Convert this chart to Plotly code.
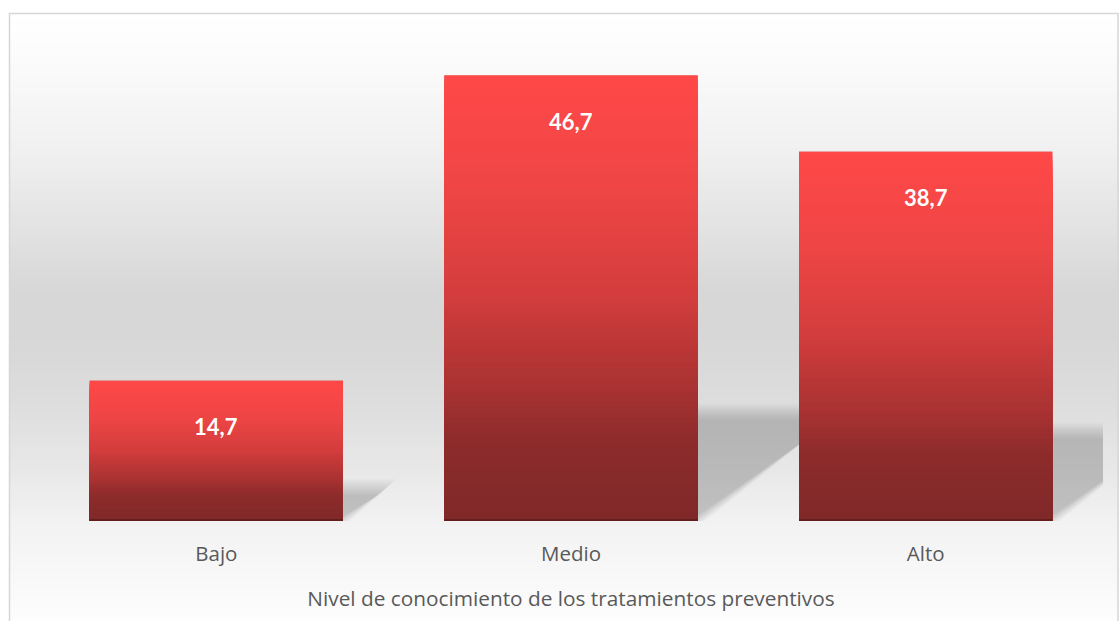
import numpy as np
import plotly.graph_objects as go

# Data
categories = ["Bajo", "Medio", "Alto"]
values = [14.7, 46.7, 38.7]
labels = ["14,7", "46,7", "38,7"]
axis_title = "Nivel de conocimiento de los tratamientos preventivos"

W, H = 1119, 621
M_L, M_R, M_T, M_B = 39, 16, 44, 100
Y_MAX = 50
BARGAP = 0.286
HALF = (1 - BARGAP) / 2

plot_w = W - M_L - M_R
plot_h = H - M_T - M_B
px_per_x = plot_w / len(categories)
px_per_y = plot_h / Y_MAX


def lerp_color(stops, t):
    ts = [s[0] for s in stops]
    for i in range(len(stops) - 1):
        if ts[i] <= t <= ts[i + 1]:
            f = (t - ts[i]) / (ts[i + 1] - ts[i])
            c0, c1 = stops[i][1], stops[i + 1][1]
            c = [round(c0[k] + (c1[k] - c0[k]) * f) for k in range(3)]
            return "rgb(%d,%d,%d)" % tuple(c)
    c = stops[-1][1]
    return "rgb(%d,%d,%d)" % tuple(c)


# bar fill: bright red at the top, dark red at the base (t measured from top)
bar_stops = [
    (0.00, (255, 72, 72)),
    (0.26, (238, 69, 69)),
    (0.49, (212, 61, 61)),
    (0.64, (182, 53, 53)),
    (0.71, (168, 50, 50)),
    (0.82, (142, 43, 43)),
    (1.00, (128, 41, 41)),
]

# chart background: white at the top, grey in the middle, light at the bottom (pixel rows)
bg_stops = [
    (13, (255, 255, 255)),
    (60, (251, 251, 251)),
    (150, (240, 240, 240)),
    (230, (226, 226, 226)),
    (290, (215, 215, 215)),
    (335, (215, 215, 215)),
    (400, (221, 221, 221)),
    (470, (232, 232, 232)),
    (520, (242, 242, 242)),
    (565, (247, 247, 247)),
    (621, (253, 253, 253)),
]


def px_to_paper_x(px):
    return (px - M_L) / plot_w


def px_to_paper_y(py):
    return (H - M_B - py) / plot_h


shapes = []

# background gradient inside the chart frame
FRAME_L, FRAME_T, FRAME_R = 9.5, 13.5, 1118.0
rows = np.arange(FRAME_T, H + 2, 3.0)
for r in rows:
    shapes.append(dict(
        type="rect", xref="paper", yref="paper", layer="below",
        x0=px_to_paper_x(FRAME_L), x1=px_to_paper_x(FRAME_R + 2),
        y0=px_to_paper_y(r + 3.5), y1=px_to_paper_y(r),
        fillcolor=lerp_color(bg_stops, r), line=dict(width=0),
    ))

# frame of the chart area
shapes.append(dict(
    type="rect", xref="paper", yref="paper", layer="below",
    x0=px_to_paper_x(FRAME_L), x1=px_to_paper_x(FRAME_R),
    y0=px_to_paper_y(H + 10), y1=px_to_paper_y(FRAME_T),
    fillcolor="rgba(0,0,0,0)", line=dict(color="#D6D6D6", width=1.5),
))

# soft perspective shadows cast to the right of each bar
SH_RATIO = 0.245      # shadow height relative to the bar height
SH_SLOPE = 1.33       # horizontal run of the shadow per pixel of rise
N_LAYERS = 12
BLUR = 8.0
for i, v in enumerate(values):
    x1 = i + HALF
    x0 = i - HALF
    hs_px = SH_RATIO * v * px_per_y
    dx_px = SH_SLOPE * hs_px
    for d in np.linspace(-BLUR, BLUR, N_LAYERS):
        top = (hs_px + d) / px_per_y
        xa = x1 + d / px_per_x
        xb = x1 + (dx_px + d) / px_per_x
        xc = x0 + (dx_px + d) / px_per_x
        path = "M %f,0 L %f,0 L %f,%f L %f,%f Z" % (x0, xa, xb, top, xc, top)
        shapes.append(dict(
            type="path", xref="x", yref="y", layer="below", path=path,
            fillcolor="rgba(0,0,0,0.017)", line=dict(width=0),
        ))

# vertical gradient over each bar
N_BANDS = 90
for i, v in enumerate(values):
    for k in range(N_BANDS):
        t = k / (N_BANDS - 1)
        level = v * (1 - k / N_BANDS)
        shapes.append(dict(
            type="rect", xref="x", yref="y", layer="above",
            x0=i - HALF, x1=i + HALF, y0=0, y1=level,
            fillcolor=lerp_color(bar_stops, t), line=dict(width=0),
        ))
    # darker rim along the base of the bar
    shapes.append(dict(
        type="rect", xref="x", yref="y", layer="above",
        x0=i - HALF, x1=i + HALF, y0=0, y1=2 / px_per_y,
        fillcolor="rgb(100,30,30)", line=dict(width=0),
    ))

fig = go.Figure()
fig.add_trace(go.Bar(
    x=categories, y=values,
    marker=dict(color="rgb(200,58,58)", line=dict(width=0)),
    hovertemplate="%{x}: %{y}<extra></extra>",
))

annotations = []
for cat, v, lab in zip(categories, values, labels):
    annotations.append(dict(
        x=cat, y=v, xref="x", yref="y", text=lab, showarrow=False,
        yanchor="middle", yshift=-46,
        font=dict(family="Lato", size=22, color="white", weight="bold"),
    ))

fig.update_layout(
    width=W, height=H,
    margin=dict(l=M_L, r=M_R, t=M_T, b=M_B),
    paper_bgcolor="white",
    plot_bgcolor="rgba(0,0,0,0)",
    bargap=BARGAP,
    showlegend=False,
    shapes=shapes,
    annotations=annotations,
    xaxis=dict(
        type="category", range=[-0.5, len(categories) - 0.5], fixedrange=True,
        showgrid=False, zeroline=False, showline=False,
        ticks="", ticklabelstandoff=18,
        tickfont=dict(family="Open Sans", size=20.5, color="#595959"),
        title=dict(text=axis_title, standoff=25,
                   font=dict(family="Open Sans", size=20.8, color="#595959")),
    ),
    yaxis=dict(range=[0, Y_MAX], visible=False, fixedrange=True),
)

fig.write_html("out.html")
